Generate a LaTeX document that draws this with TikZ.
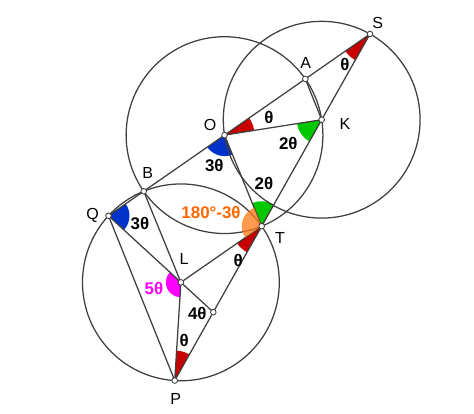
\documentclass[tikz,border=0pt]{standalone}
\usepackage{fontspec}
\setmainfont{Liberation Sans}
\usetikzlibrary{calc}
\definecolor{lc}{RGB}{64,64,64}
\definecolor{angred}{RGB}{200,0,0}
\definecolor{anggreen}{RGB}{0,200,0}
\definecolor{angblue}{RGB}{0,51,204}
\definecolor{angmag}{RGB}{255,0,255}
\definecolor{angorange}{RGB}{255,120,20}
\definecolor{txtorange}{RGB}{255,102,0}
\newcommand\angsec[5]{\fill[#5] (#1) -- ++(#2:#4) arc[start angle=#2,end angle=#3,radius=#4] -- cycle;}
\begin{document}
\begin{tikzpicture}[x=0.025cm,y=0.025cm,
  geo/.style={draw=lc,line width=0.9pt},
  pt/.style={circle,draw=lc,fill=white,line width=0.6pt,inner sep=0pt,minimum size=4pt},
  plab/.style={font=\fontsize{11.4}{13}\selectfont,inner sep=0pt},
  alab/.style={font=\fontsize{12}{14}\selectfont\bfseries,inner sep=0pt}]
\useasboundingbox (0,0) rectangle (474,414);
\pgfmathsetmacro\tht{25.8}
\pgfmathsetmacro\rr{98.4}
\pgfmathsetmacro\ua{240.6}
\pgfmathsetmacro\va{\ua-\tht}
\pgfmathsetmacro\sO{2*\rr*cos(\tht)}
\pgfmathsetmacro\sA{\sO-\rr}
\pgfmathsetmacro\sB{\sO+\rr}
\pgfmathsetmacro\sQ{\rr*(4*cos(2*\tht)*cos(\tht)+1)}
\pgfmathsetmacro\sT{\rr*(1+2*cos(2*\tht))}
\pgfmathsetmacro\sP{\sT+2*\rr*cos(\tht)}
\coordinate (S) at (370,380);
\coordinate (K) at ($(S)+(\ua:\rr)$);
\coordinate (O) at ($(S)+(\va:\sO)$);
\coordinate (A) at ($(S)+(\va:\sA)$);
\coordinate (B) at ($(S)+(\va:\sB)$);
\coordinate (Q) at ($(S)+(\va:\sQ)$);
\coordinate (T) at ($(S)+(\ua:\sT)$);
\coordinate (P) at ($(S)+(\ua:\sP)$);
\coordinate (L) at ($(T)+(\va:\rr)$);
\coordinate (M) at (intersection of Q--L and S--P);
% angle sectors
\pgfmathsetmacro\aa{\va+180-\tht}
\pgfmathsetmacro\ab{\va+180}
\angsec{S}{\va}{\ua}{30}{angred}
\angsec{O}{\aa}{\ab}{30}{angred}
\pgfmathsetmacro\aa{\va-\tht}
\angsec{K}{\aa}{\ua}{25}{anggreen}
\pgfmathsetmacro\aa{\va+3*\tht}
\angsec{O}{\va}{\aa}{21}{angblue}
\pgfmathsetmacro\aa{\ua-180}
\pgfmathsetmacro\ab{\ua-180+2*\tht}
\angsec{T}{\aa}{\ab}{25}{anggreen}
\angsec{T}{\va}{\ua}{30}{angred}
\pgfmathsetmacro\aa{\va+180-3*\tht}
\pgfmathsetmacro\ab{\va+180}
\angsec{Q}{\aa}{\ab}{21}{angblue}
\pgfmathsetmacro\aa{\va-3*\tht}
\pgfmathsetmacro\ab{\ua+\tht}
\angsec{L}{\aa}{\ab}{15}{angmag}
\pgfmathsetmacro\aa{\ua-180}
\pgfmathsetmacro\ab{\ua-180+\tht}
\angsec{P}{\aa}{\ab}{30}{angred}
% circles
\draw[geo] (O) circle[radius=\rr];
\draw[geo] (K) circle[radius=\rr];
\draw[geo] (L) circle[radius=\rr];
% segments
\draw[geo] (S) -- (Q);
\draw[geo] (S) -- (P);
\draw[geo] (O) -- (K);
\draw[geo] (A) -- (K);
\draw[geo] (O) -- (T);
\draw[geo] (Q) -- (M);
\draw[geo] (Q) -- (P);
\draw[geo] (B) -- (L);
\draw[geo] (L) -- (P);
\draw[geo] (L) -- (T);
% orange translucent sector
\pgfmathsetmacro\aa{\ua-180+2*\tht}
\angsec{T}{\aa}{\va}{20}{angorange,opacity=0.75}
% points
\foreach \p in {S,A,O,K,B,Q,T,L,M,P} \node[pt] (dot\p) at (\p) {};
% point labels
\node[plab] (labS) at (377.7,390.7) {S};
\node[plab] (labA) at (305.7,351.3) {A};
\node[plab] (labO) at (210,289) {O};
\node[plab] (labK) at (345,289.7) {K};
\node[plab] (labB) at (147.7,241.3) {B};
\node[plab] (labQ) at (92.7,198.3) {Q};
\node[plab] (labL) at (184,154.7) {L};
\node[plab] (labT) at (280,175.7) {T};
\node[plab] (labP) at (175.7,14.7) {P};
% angle labels
\node[alab] (tS) at (345,350) {θ};
\node[alab] (tO) at (269,296.7) {θ};
\node[alab] (tK) at (288.3,270.7) {2θ};
\node[alab] (tO3) at (214.3,248.3) {3θ};
\node[alab] (tT2) at (264,231) {2θ};
\node[alab,text=txtorange] (tT180) at (211,201.3) {180°-3θ};
\node[alab] (tQ) at (140,190.7) {3θ};
\node[alab] (tT) at (238.3,154) {θ};
\node[alab,text=angmag] (tL) at (154,125.7) {5θ};
\node[alab] (tM) at (197.3,100.7) {4θ};
\node[alab] (tP) at (184.3,73.3) {θ};
\end{tikzpicture}
\end{document}
